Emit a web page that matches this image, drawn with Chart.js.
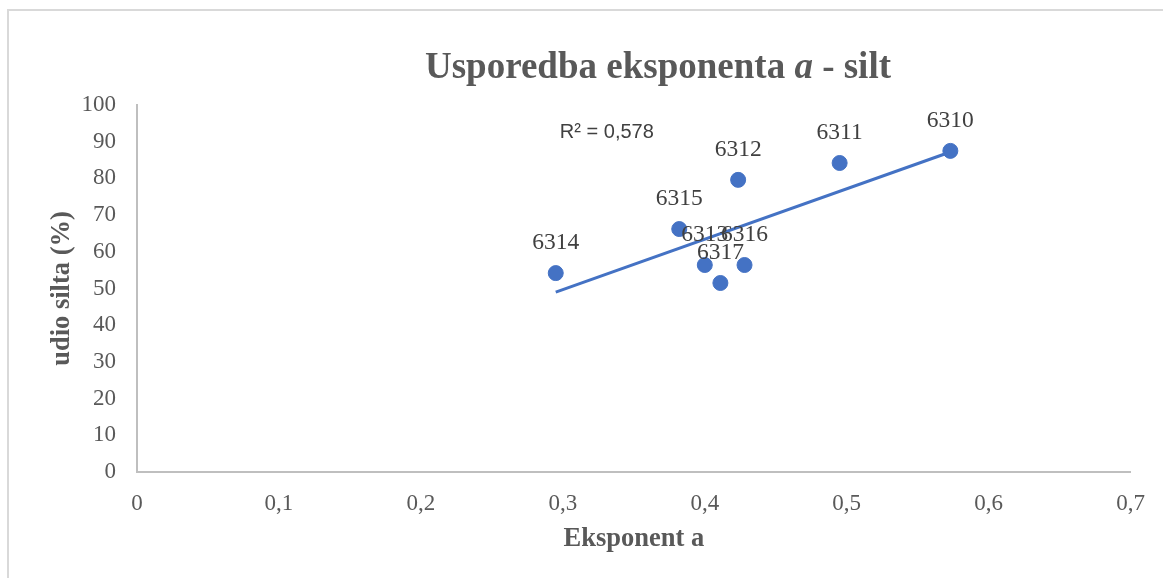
<!DOCTYPE html>
<html lang="hr">
<head>
    <meta charset="UTF-8">
    <title>Usporedba eksponenta a - silt</title>
    <style>
        body { margin: 0; background: #fff; }
        #wrap { position: relative; width: 1163px; height: 578px; overflow: hidden; }
        #frame {
            position: absolute; left: 7px; top: 9px; width: 1300px; height: 700px;
            border: 2px solid #d9d9d9;
        }
        #chart { position: absolute; left: 0; top: 0; }
    </style>
</head>
<body>
    <div id="wrap">
        <div id="frame"></div>
        <canvas id="chart" width="1163" height="578"></canvas>
    </div>

    <script src="https://cdn.jsdelivr.net/npm/chart.js"></script>
    <script>
        // sample ids, exponent a, silt share (%)
        const sampleIds = ['6310', '6311', '6312', '6313', '6314', '6315', '6316', '6317'];
        const exponentA = [0.573, 0.495, 0.4235, 0.400, 0.295, 0.382, 0.428, 0.411];
        const siltShare = [87.5, 84.2, 79.6, 56.4, 54.2, 66.2, 56.4, 51.5];

        const xTicks = [0, 0.1, 0.2, 0.3, 0.4, 0.5, 0.6, 0.7];
        const yTicks = [0, 10, 20, 30, 40, 50, 60, 70, 80, 90, 100];

        const blue = '#4472C4';
        const grey = '#595959';
        const serif = '"Liberation Serif", "Times New Roman", serif';

        // linear trendline (least squares)
        const n = exponentA.length;
        const mx = exponentA.reduce((s, v) => s + v, 0) / n;
        const my = siltShare.reduce((s, v) => s + v, 0) / n;
        let sxy = 0, sxx = 0;
        for (let i = 0; i < n; i++) {
            sxy += (exponentA[i] - mx) * (siltShare[i] - my);
            sxx += (exponentA[i] - mx) * (exponentA[i] - mx);
        }
        const slope = sxy / sxx;
        const icept = my - slope * mx;
        const xMin = Math.min(...exponentA);
        const xMax = Math.max(...exponentA);
        const trend = [
            { x: xMin, y: icept + slope * xMin },
            { x: xMax, y: icept + slope * xMax }
        ];

        const points = exponentA.map((x, i) => ({ x: x, y: siltShare[i] }));

        // draws the title (with italic a), point labels and R2 text
        const extras = {
            id: 'extras',
            afterDatasetsDraw(chart) {
                const ctx = chart.ctx;
                const xs = chart.scales.x;
                const ys = chart.scales.y;

                ctx.save();
                ctx.fillStyle = '#404040';
                ctx.font = '23.5px ' + serif;
                ctx.textAlign = 'center';
                ctx.textBaseline = 'middle';
                points.forEach((p, i) => {
                    ctx.fillText(sampleIds[i], xs.getPixelForValue(p.x), ys.getPixelForValue(p.y) - 30);
                });

                ctx.font = '20px "Liberation Sans", Arial, sans-serif';
                ctx.fillText('R² = 0,578', xs.getPixelForValue(0.331), ys.getPixelForValue(92.4));

                // title
                const parts = [
                    ['Usporedba eksponenta ', 'bold 37px ' + serif],
                    ['a', 'italic bold 37px ' + serif],
                    [' - silt', 'bold 37px ' + serif]
                ];
                let total = 0;
                parts.forEach(p => { ctx.font = p[1]; total += ctx.measureText(p[0]).width; });
                let x = 658 - total / 2;
                ctx.fillStyle = grey;
                ctx.textAlign = 'left';
                ctx.textBaseline = 'alphabetic';
                parts.forEach(p => {
                    ctx.font = p[1];
                    ctx.fillText(p[0], x, 78);
                    x += ctx.measureText(p[0]).width;
                });
                ctx.restore();
            }
        };

        new Chart(document.getElementById('chart'), {
            type: 'scatter',
            data: {
                datasets: [
                    {
                        label: 'udio silta',
                        data: points,
                        backgroundColor: blue,
                        borderColor: blue,
                        pointRadius: 7.5,
                        pointHoverRadius: 7.5,
                        order: 1
                    },
                    {
                        label: 'trend',
                        type: 'line',
                        data: trend,
                        borderColor: blue,
                        borderWidth: 3,
                        pointRadius: 0,
                        fill: false,
                        order: 2
                    }
                ]
            },
            options: {
                responsive: false,
                animation: false,
                layout: { padding: { left: 0, top: 105, right: 31, bottom: 0 } },
                plugins: {
                    legend: { display: false },
                    tooltip: { enabled: false }
                },
                scales: {
                    x: {
                        type: 'linear',
                        min: 0,
                        max: 0.7,
                        afterFit(scale) { scale.height = 106; },
                        afterBuildTicks(scale) { scale.ticks = xTicks.map(v => ({ value: v })); },
                        grid: { display: true, drawOnChartArea: false, drawTicks: false, color: '#bfbfbf' },
                        border: { color: '#bfbfbf', width: 2 },
                        ticks: {
                            color: grey,
                            font: { family: serif, size: 23 },
                            padding: 18,
                            maxRotation: 0,
                            callback: v => String(Math.round(v * 10) / 10).replace('.', ',')
                        },
                        title: {
                            display: true,
                            text: 'Eksponent a',
                            color: grey,
                            font: { family: serif, size: 26.5, weight: 'bold' },
                            padding: { top: 0, bottom: 23 }
                        }
                    },
                    y: {
                        min: 0,
                        max: 100,
                        afterFit(scale) { scale.width = 137; },
                        afterBuildTicks(scale) { scale.ticks = yTicks.map(v => ({ value: v })); },
                        grid: { display: true, drawOnChartArea: false, drawTicks: false, color: '#bfbfbf' },
                        border: { color: '#bfbfbf', width: 2 },
                        ticks: {
                            color: grey,
                            font: { family: serif, size: 23 },
                            padding: 21
                        },
                        title: {
                            display: true,
                            text: 'udio silta (%)',
                            color: grey,
                            font: { family: serif, size: 26.5, weight: 'bold' },
                            padding: { top: 46, bottom: 0 }
                        }
                    }
                }
            },
            plugins: [extras]
        });
    </script>
</body>
</html>
